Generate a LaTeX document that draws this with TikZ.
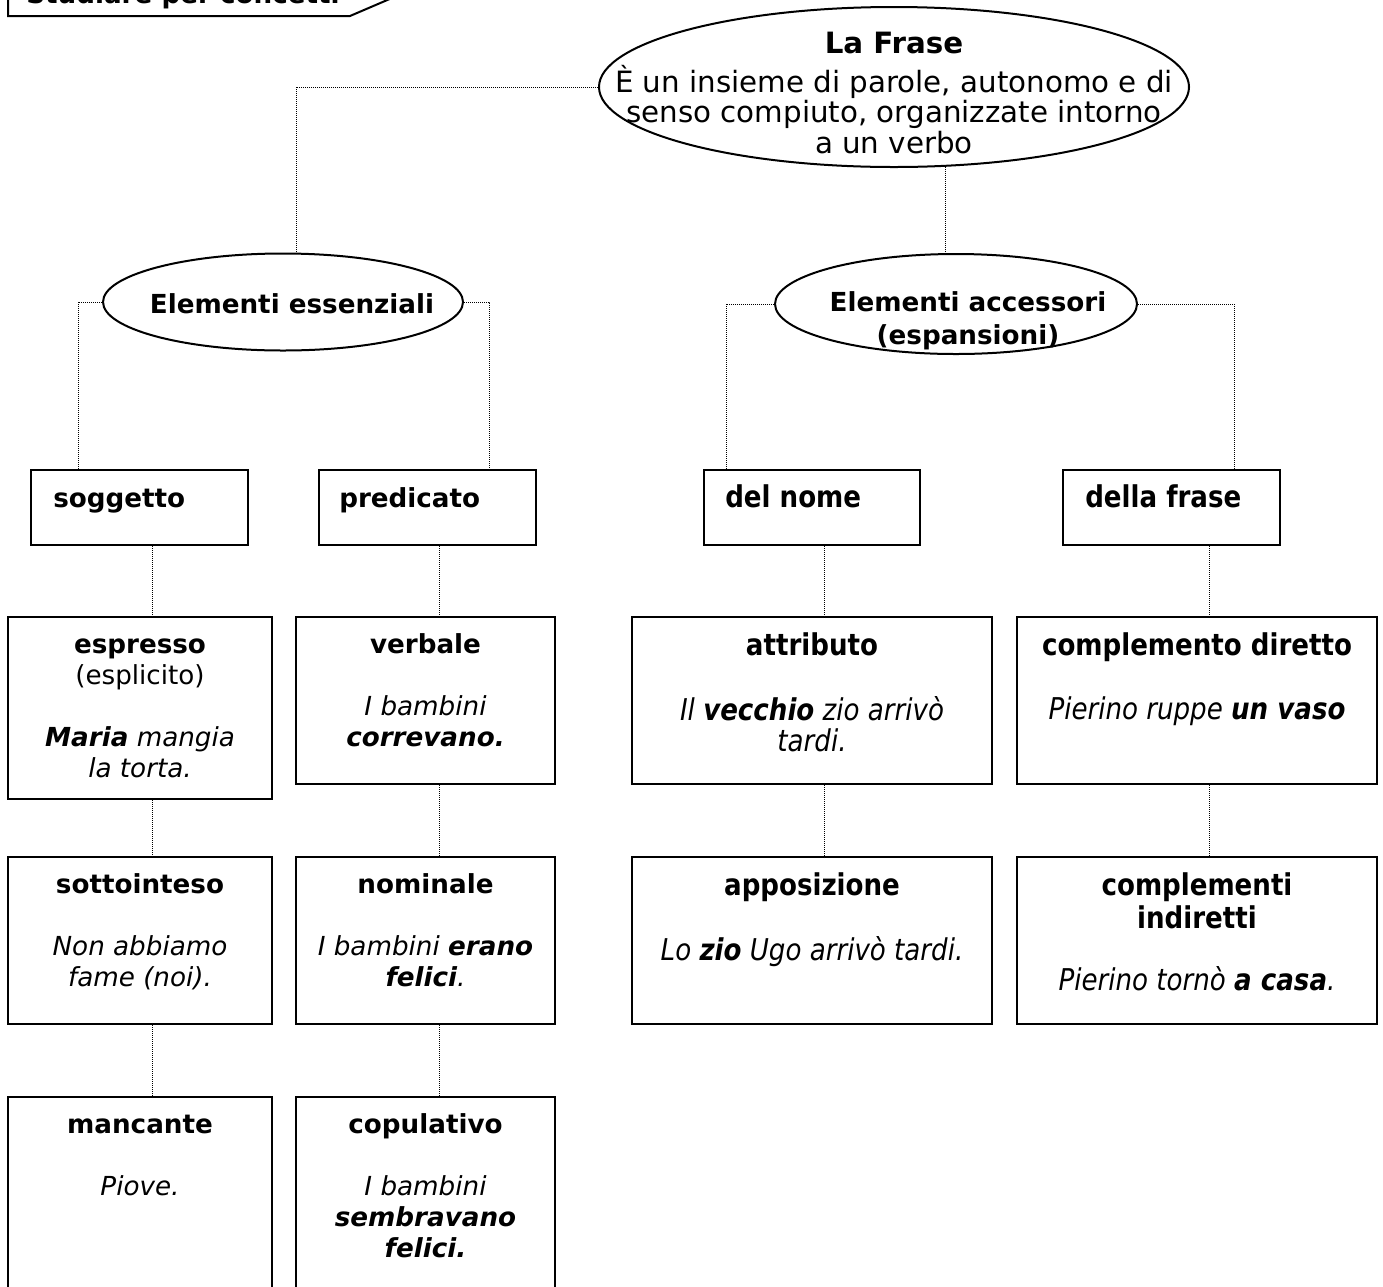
\documentclass[tikz,border=0pt]{standalone}
\usepackage{fontspec}
\setmainfont{DejaVu Sans}
\newfontfamily\condfont[FakeStretch=0.87]{DejaVu Sans}
\usetikzlibrary{shapes.geometric,calc,fit}
\begin{document}
\begin{tikzpicture}[x=0.75pt,y=-0.75pt,
  boxnode/.style={draw,line width=1.5pt,inner sep=0pt},
  ovalnode/.style={draw,ellipse,line width=1.5pt,inner sep=0pt},
  link/.style={line width=0.75pt,dash pattern=on 0.75pt off 0.75pt},
  lt/.style={font=\fontsize{19.65}{23.25}\selectfont,align=center,inner sep=0pt},
  rt/.style={font=\condfont\fontsize{22.5}{23.25}\selectfont,align=center,inner sep=0pt},
]
\fill[white] (0,0) rectangle (1383,1286);
\useasboundingbox (0,0) rectangle (1383,1286);

% tag
\node[lt, anchor=base west] (tag) at (26,3) {\textbf{Studiare per concetti}};
\draw[line width=1.5pt] (8,-5) -- (8,16) -- (350,16) -- (392,-2);

% ellipses
\node[ovalnode, minimum width=442.5pt, minimum height=120pt] (frase) at (894,87) {};
\node[lt, anchor=north, font=\fontsize{22}{23}\selectfont] (frasetxt) at (894,32)
  {\strut\textbf{La Frase}\\[0.5pt]È un insieme di parole, autonomo e di\\senso compiuto, organizzate intorno\\a un verbo};

\node[ovalnode, minimum width=270pt, minimum height=72.75pt] (ess) at (283,302) {};
\node[lt] (esstxt) at (292,304) {\textbf{Elementi essenziali}};

\node[ovalnode, minimum width=271.5pt, minimum height=75pt] (acc) at (956,304) {};
\node[lt, anchor=north, font=\fontsize{19.65}{24.75}\selectfont] (acctxt) at (968,288)
  {\strut\textbf{Elementi accessori}\\\textbf{(espansioni)}};

% row 1
\node[boxnode, fit={(31,470) (248,545)}] (sog) {};
\node[boxnode, fit={(319,470) (536,545)}] (pred) {};
\node[boxnode, fit={(704,470) (920,545)}] (dnome) {};
\node[boxnode, fit={(1063,470) (1280,545)}] (dfrase) {};
\node[lt, anchor=base west] (tsog) at (53,507) {\textbf{soggetto}};
\node[lt, anchor=base west] (tpred) at (339,507) {\textbf{predicato}};
\node[rt, anchor=base west] (tdnome) at (725,507) {\textbf{del nome}};
\node[rt, anchor=base west] (tdfrase) at (1085,507) {\textbf{della frase}};

% row 2
\node[boxnode, fit={(8,617) (272,799)}] (esp) {};
\node[boxnode, fit={(296,617) (555,784)}] (verb) {};
\node[boxnode, fit={(632,617) (992,784)}] (attr) {};
\node[boxnode, fit={(1017,617) (1377,784)}] (cdir) {};
\node[lt, anchor=north] (tesp) at ($(esp.north)+(0,16)$)
  {\strut\textbf{espresso}\\(esplicito)\\[23.25pt]\textit{\textbf{Maria} mangia}\\\textit{la torta.}};
\node[lt, anchor=north] (tverb) at ($(verb.north)+(0,16)$)
  {\strut\textbf{verbale}\\[23.25pt]\textit{I bambini}\\\textit{\textbf{correvano.}}};
\node[rt, anchor=north] (tattr) at ($(attr.north)+(0,16)$)
  {\strut\textbf{attributo}\\[23.25pt]\textit{Il \textbf{vecchio} zio arrivò}\\\textit{tardi.}};
\node[rt, anchor=north] (tcdir) at ($(cdir.north)+(0,16)$)
  {\strut\textbf{complemento diretto}\\[23.25pt]\textit{Pierino ruppe \textbf{un vaso}}};

% row 3
\node[boxnode, fit={(8,857) (272,1024)}] (sott) {};
\node[boxnode, fit={(296,857) (555,1024)}] (nom) {};
\node[boxnode, fit={(632,857) (992,1024)}] (appo) {};
\node[boxnode, fit={(1017,857) (1377,1024)}] (cind) {};
\node[lt, anchor=north] (tsott) at ($(sott.north)+(0,16)$)
  {\strut\textbf{sottointeso}\\[23.25pt]\textit{Non abbiamo}\\\textit{fame (noi).}};
\node[lt, anchor=north] (tnom) at ($(nom.north)+(0,16)$)
  {\strut\textbf{nominale}\\[23.25pt]\textit{I bambini \textbf{erano}}\\\textit{\textbf{felici}.}};
\node[rt, anchor=north] (tappo) at ($(appo.north)+(0,16)$)
  {\strut\textbf{apposizione}\\[23.25pt]\textit{Lo \textbf{zio} Ugo arrivò tardi.}};
\node[rt, anchor=north] (tcind) at ($(cind.north)+(0,16)$)
  {\strut\textbf{complementi}\\\textbf{indiretti}\\[23.25pt]\textit{Pierino tornò \textbf{a casa}.}};

% row 4
\node[boxnode, fit={(8,1097) (272,1300)}] (manc) {};
\node[boxnode, fit={(296,1097) (555,1300)}] (copu) {};
\node[lt, anchor=north] (tmanc) at ($(manc.north)+(0,16)$)
  {\strut\textbf{mancante}\\[23.25pt]\textit{Piove.}};
\node[lt, anchor=north] (tcopu) at ($(copu.north)+(0,16)$)
  {\strut\textbf{copulativo}\\[23.25pt]\textit{I bambini}\\\textit{\textbf{sembravano}}\\\textit{\textbf{felici.}}};

% connectors
\draw[link] (frase.west) -| ([xshift=9.75pt]ess.north);
\draw[link] (frase.-57) -- (frase.-57 |- acc.north);
\draw[link] (ess.west) -| ([xshift=36pt]sog.north west);
\draw[link] (ess.east) -| ([xshift=-36pt]pred.north east);
\draw[link] (acc.west) -| ([xshift=17.25pt]dnome.north west);
\draw[link] (acc.east) -| ([xshift=-35.25pt]dfrase.north east);

\coordinate (cA) at (152,0);
\coordinate (cB) at (439,0);
\coordinate (cC) at (824,0);
\coordinate (cD) at (1209,0);
\draw[link] (sog.south -| cA) -- (esp.north -| cA);
\draw[link] (esp.south -| cA) -- (sott.north -| cA);
\draw[link] (sott.south -| cA) -- (manc.north -| cA);
\draw[link] (pred.south -| cB) -- (verb.north -| cB);
\draw[link] (verb.south -| cB) -- (nom.north -| cB);
\draw[link] (nom.south -| cB) -- (copu.north -| cB);
\draw[link] (dnome.south -| cC) -- (attr.north -| cC);
\draw[link] (attr.south -| cC) -- (appo.north -| cC);
\draw[link] (dfrase.south -| cD) -- (cdir.north -| cD);
\draw[link] (cdir.south -| cD) -- (cind.north -| cD);
\end{tikzpicture}
\end{document}
